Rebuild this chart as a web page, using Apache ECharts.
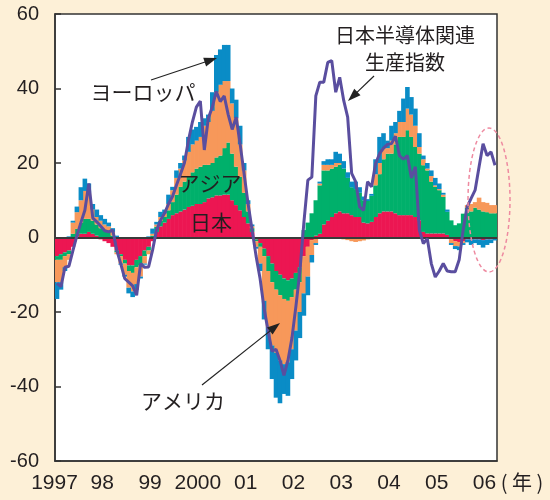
<!DOCTYPE html>
<html><head><meta charset="utf-8">
<script src="https://cdn.jsdelivr.net/npm/echarts@6/dist/echarts.min.js"></script>
<style>html,body{margin:0;padding:0;background:#fdf0d7;}#c{width:550px;height:500px;}</style>
</head><body><div id="c"></div>
<script>
// Year tick labels (placed at January of each year)
const yearLabels = ['1997','98','99','2000','01','02','03','04','05','06'];

// Monthly contributions (1997-01 .. 2006-03)
const japan = [
 -5,-4.5,-4,-3.5,-2.5,0.3,1,1,1.5,1,0.5,-0.5,
 -1,-1.5,-2.5,-3.5,-4.5,-6,-7.5,-7.5,-6,-5,-3.5,-2.5,
 -1,1.5,3,4,5,6,6.5,7,7.5,8.2,8.5,9,
 9,9.5,10.5,10.8,11.3,11.3,11.5,11.5,10,8.7,7.3,5.5,
 3.8,1.5,-0.5,-1.5,-3,-5,-7,-9,-10,-11,-11.5,-11,
 -9.5,-8,-5,-2.5,-0.7,0.5,1,3.5,4.5,5.5,6.5,7,
 6.5,6.5,6,5.5,5.5,4,3.8,4.2,5.5,6.5,7,7,
 7,6.5,6,6,6,6,5.5,4.6,1.5,1.1,1.1,1.1,
 1.1,1.1,0.7,-0.5,-1,-1.2,-1,-0.5,-0.5,-0.5,-0.5,-0.7,
 -0.5,-0.5,-0.3];
const asia = [
 -1,-1.5,-1,-1,1,2,3,4,3.5,3.5,3,2.5,
 2,1.5,0.5,-0.5,-0.5,-1,-1.5,-2,-2,-2.5,-1.5,-1,
 0.5,1.4,1.5,1.5,2.3,3.5,5,6.6,7.5,8.3,9,9.5,
 10,10,9,9.2,10.2,10.7,12.5,14,12.5,10.3,9,6.5,
 3.2,1,-0.5,-1,-2,-4,-5,-5,-5.5,-5.5,-5.5,-5,
 -4.5,-4,2,4,6.5,9.5,13,14.5,13.5,13,12.5,12.5,
 12,9.5,7.5,7.5,6.5,6,6,7,8.5,10.5,14,15.5,
 15.5,18.5,21,21,22.8,21,18.8,17.9,17.9,16.9,13.9,12.5,
 11.6,9.8,6.2,4.6,3.3,3.8,6.4,8,7,8,7.5,7,
 6.8,6.5,6.5];
const america = [
 -6,-6,-3,-1.5,3,4.5,6,7.5,7,3,2,2,
 1.5,1.5,1,-0.5,-2,-3,-4.5,-5,-4.5,-3,-2,-1,
 0.5,0.6,1,1,1.7,3.2,4.5,4.9,5.7,6.5,7.5,7.5,
 8,10.5,11.5,14,17.5,19,18,16.5,13.5,13,8.7,6,
 2,0.5,-1.5,-4.5,-12,-15,-17,-17,-17.5,-17.5,-16.5,-14,
 -11,-8,-10,-8,-4,-1.5,0.5,1.5,1.5,1,1,0.5,
 -0.5,-0.7,-1,-1.2,-1,-0.8,-0.5,-0.3,3,3,3,1.5,
 3.5,3,4,4,5.8,6,5.7,1.8,1.6,0.5,1.5,0.4,
 0.3,0.6,0,-1,-1.3,-1.2,-0.5,0.7,2,1.5,3.2,2.5,
 2.5,2.2,2.2];
const europe = [
 -4.5,-2,-1,0.3,0.5,1.5,3.5,3.3,2.5,1.5,2,1.5,
 1.5,1,1,0.5,-0.3,-0.5,-1.5,-1.5,-1.5,-0.5,-0.3,0.3,
 1.4,0.7,1.4,1,2.5,0.9,2,1.5,1.3,4,4,3.7,
 4,2,2,5,10,9.5,9.7,9.7,4,5,5,2,
 1,0.5,-0.5,-2,-5,-6,-9,-12,-11.5,-8,-9,-8,
 -8,-7,-6,-5,-2,-0.5,0.5,1,1.5,1.5,3,2.5,
 2,1.5,1.5,2,1.5,1,0.5,0.5,4,7,4,2,
 4,3,3,6.3,5.8,4.7,4.6,3.7,1,1.5,1.5,2,
 1.5,0.5,0.6,-0.5,-0.8,-1,-0.5,-0.8,-1.5,-1,-1.5,-2,
 -1.5,-1,-0.5];
// 日本半導体関連生産指数
const semiIndex = [
 -12.3,-13.2,-8,-7.7,-3.5,0.5,4,7.3,14.5,5.2,4.2,3,
 1.8,1.5,2,-3.4,-7,-11,-12,-13,-15.5,-7,-8,-7.9,
 -3.4,2,4.6,6.5,9,11,14,17,20,26,31,35,
 36.6,23.5,32,35,39.2,36.5,38,33,29,32.3,25,17,
 9,2,-5,-11,-19,-25,-30.5,-30,-33,-37,-33,-27,
 -18.5,-9,4,15.4,16.2,38,41.7,41.7,47,47.5,39,43,
 36.8,32.3,17.2,15,8.2,7.3,15,13.6,19.8,22.5,24,25,
 25.2,27.2,22,21,22,16,19,2,-1.6,-0.3,-7,-10.6,
 -9,-7,-9,-9.2,-9.2,-6,2,8.2,10.5,12.7,19,25.2,
 22,23,19.4];

const months = [];
for (let y = 1997; months.length < japan.length; y++)
  for (let m = 1; m <= 12 && months.length < japan.length; m++)
    months.push(y + '-' + (m < 10 ? '0' : '') + m);

const TXT = '#231f20';
const JP = '"Noto Sans CJK JP", sans-serif';
const LAT = '"Liberation Sans", Arial, sans-serif';

function arrow(x1, y1, x2, y2) {
  const dx = x2 - x1, dy = y2 - y1, L = Math.hypot(dx, dy);
  const ux = dx / L, uy = dy / L, hl = 13, hw = 4.5;
  const bx = x2 - ux * hl, by = y2 - uy * hl;
  return [
    {type: 'line', shape: {x1, y1, x2: bx + ux * 2, y2: by + uy * 2}, style: {stroke: '#222', lineWidth: 1.2}, z: 100},
    {type: 'polygon', shape: {points: [[x2, y2], [bx - uy * hw, by + ux * hw], [bx + uy * hw, by - ux * hw]]}, style: {fill: '#222'}, z: 100}
  ];
}
function label(text, x, y, size) {
  return {type: 'text', x, y, z: 100, style: {text, fill: TXT, fontSize: size, fontFamily: JP, align: 'center', verticalAlign: 'middle'}};
}

const barSeries = [
  ['日本', japan, '#ec1652'],
  ['アジア', asia, '#00b06b'],
  ['アメリカ', america, '#f7985a'],
  ['ヨーロッパ', europe, '#0a8cc6']
].map(([name, data, color]) => ({
  name, type: 'bar', stack: 'total', data, barWidth: 4.6,
  itemStyle: {color}, emphasis: {disabled: true}, z: 2
}));

const chart = echarts.init(document.getElementById('c'), null, {renderer: 'canvas'});
chart.setOption({
  backgroundColor: '#fdf0d7',
  animation: false,
  grid: {left: 55, right: 53, top: 14, bottom: 39, show: true, backgroundColor: '#fff', borderColor: '#333', borderWidth: 1.5},
  xAxis: {
    type: 'category', data: months, boundaryGap: true,
    axisLine: {onZero: false, show: true, lineStyle: {color: '#333', width: 1.5}},
    axisTick: {show: false},
    axisLabel: {
      interval: (i) => i % 12 === 0,
      formatter: (v, i) => yearLabels[Math.floor(i / 12)],
      color: TXT, fontSize: 21, fontFamily: LAT, margin: 12, padding: [0, 5, 0, 0]
    },
    splitLine: {show: false}
  },
  yAxis: {
    type: 'value', min: -60, max: 60, interval: 20,
    axisLine: {show: true, lineStyle: {color: '#333', width: 1.5}},
    axisTick: {show: true, inside: true, length: 6, lineStyle: {color: '#333', width: 1.5}},
    axisLabel: {color: TXT, fontSize: 20, fontFamily: LAT, margin: 16},
    splitLine: {show: false}
  },
  series: [
    ...barSeries,
    {
      name: '日本半導体関連生産指数', type: 'line', data: semiIndex, symbol: 'none',
      lineStyle: {color: '#5a4e9f', width: 3}, itemStyle: {color: '#5a4e9f'}, z: 5,
      markLine: {silent: true, symbol: 'none', label: {show: false},
        lineStyle: {color: '#3a3a3a', width: 2, type: 'solid'}, data: [{yAxis: 0}]}
    }
  ],
  graphic: [
    label('ヨーロッパ', 143, 92, 21),
    ...arrow(151, 80, 217, 58),
    label('日本半導体関連', 405, 35, 20),
    label('生産指数', 405, 62, 20),
    ...arrow(374, 76, 348, 101),
    label('アジア', 210, 183, 21),
    label('日本', 211, 222, 21),
    label('アメリカ', 183, 401, 21),
    ...arrow(202, 385, 280, 323),
    {type: 'ellipse', shape: {cx: 489, cy: 200, rx: 21, ry: 72}, z: 100,
      style: {fill: 'none', stroke: '#ee8aa0', lineWidth: 1.5, lineDash: [4, 3]}},
    {type: 'text', x: 522, y: 482, z: 100, style: {text: '( 年 )', fill: TXT, fontSize: 20, fontFamily: JP, align: 'center', verticalAlign: 'middle'}}
  ]
});
</script></body></html>
